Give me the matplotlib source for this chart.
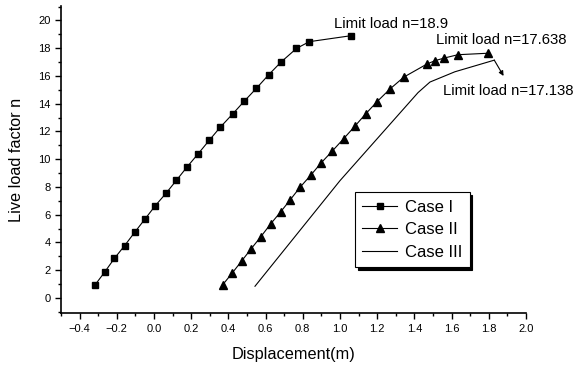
import numpy as np
import matplotlib
matplotlib.use("Agg")
import matplotlib.pyplot as plt
from matplotlib.ticker import MultipleLocator

plt.rcParams['font.family'] = ['Liberation Sans', 'DejaVu Sans']

# -------------------- data ----------------------------------------------
case1_x = [-0.317, -0.265, -0.213, -0.158, -0.104, -0.050, 0.007, 0.065, 0.120, 0.179, 0.238,
           0.297, 0.356, 0.423, 0.486, 0.550, 0.617, 0.683, 0.766, 0.835, 1.059]
case1_y = [0.94, 1.87, 2.85, 3.77, 4.73, 5.66, 6.65, 7.55, 8.47, 9.46, 10.40,
           11.36, 12.30, 13.26, 14.19, 15.10, 16.09, 17.00, 17.98, 18.47, 18.90]

case2_x = [0.369, 0.421, 0.473, 0.523, 0.575, 0.627, 0.681, 0.733, 0.785, 0.842, 0.898, 0.957,
           1.020, 1.079, 1.138, 1.199, 1.269, 1.344, 1.468, 1.511, 1.561, 1.634, 1.797]
case2_y = [0.94, 1.80, 2.69, 3.55, 4.42, 5.33, 6.20, 7.08, 7.97, 8.83, 9.72, 10.56,
           11.48, 12.36, 13.26, 14.14, 15.06, 15.92, 16.86, 17.10, 17.29, 17.53, 17.638]

case3_x = [0.543, 1.000, 1.420, 1.484, 1.618, 1.830]
case3_y = [0.84, 8.45, 14.80, 15.56, 16.30, 17.138]

labels = ["Case I", "Case II", "Case III"]

# -------------------- plot ----------------------------------------------
fig = plt.figure(figsize=(5.76, 3.68), dpi=100)
ax = fig.add_axes([0.106, 0.149, 0.807, 0.835])

ax.plot(case1_x, case1_y, '-', color='k', lw=0.8, marker='s', ms=4.5, label=labels[0])
ax.plot(case2_x, case2_y, '-', color='k', lw=0.8, marker='^', ms=6, label=labels[1])
ax.plot(case3_x, case3_y, '-', color='k', lw=0.8, label=labels[2])

ax.text(0.968, 19.76, "Limit load n=18.9", fontsize=10.7, ha='left', va='center')
ax.text(1.516, 18.61, "Limit load n=17.638", fontsize=10.7, ha='left', va='center')
ax.text(1.552, 14.88, "Limit load n=17.138", fontsize=10.7, ha='left', va='center')
ax.annotate('', xy=(1.88, 16.0), xytext=(case3_x[-1], case3_y[-1]),
            arrowprops=dict(arrowstyle='-|>', lw=0.8, color='k', mutation_scale=7, shrinkA=0, shrinkB=0))

ax.set_xlim(-0.5, 2.0)
ax.set_ylim(-1.1, 21.05)
ax.set_xticks(np.round(np.arange(-0.4, 2.01, 0.2), 1))
ax.set_yticks(np.arange(0, 21, 2))
ax.xaxis.set_minor_locator(MultipleLocator(0.1))
ax.yaxis.set_minor_locator(MultipleLocator(1))
ax.tick_params(which='major', direction='out', length=4, width=1, labelsize=8)
ax.tick_params(which='minor', direction='out', length=2.5, width=1)

for s in ('top', 'right'):
    ax.spines[s].set_visible(False)
for s in ('left', 'bottom'):
    ax.spines[s].set_linewidth(1.2)

ax.set_xlabel("Displacement(m)", fontsize=11.7, labelpad=10)
ax.set_ylabel("Live load factor n", fontsize=11.7, labelpad=10)

leg = ax.legend(loc='upper left', bbox_to_anchor=(0.632, 0.394), fontsize=12, handlelength=2.1,
                fancybox=False, edgecolor='k', framealpha=1, borderpad=0.45, labelspacing=0.45,
                handletextpad=0.45, borderaxespad=0,
                shadow={'color': 'black', 'alpha': 1})
leg.get_frame().set_linewidth(0.8)

fig.savefig("out.png", dpi=100)
